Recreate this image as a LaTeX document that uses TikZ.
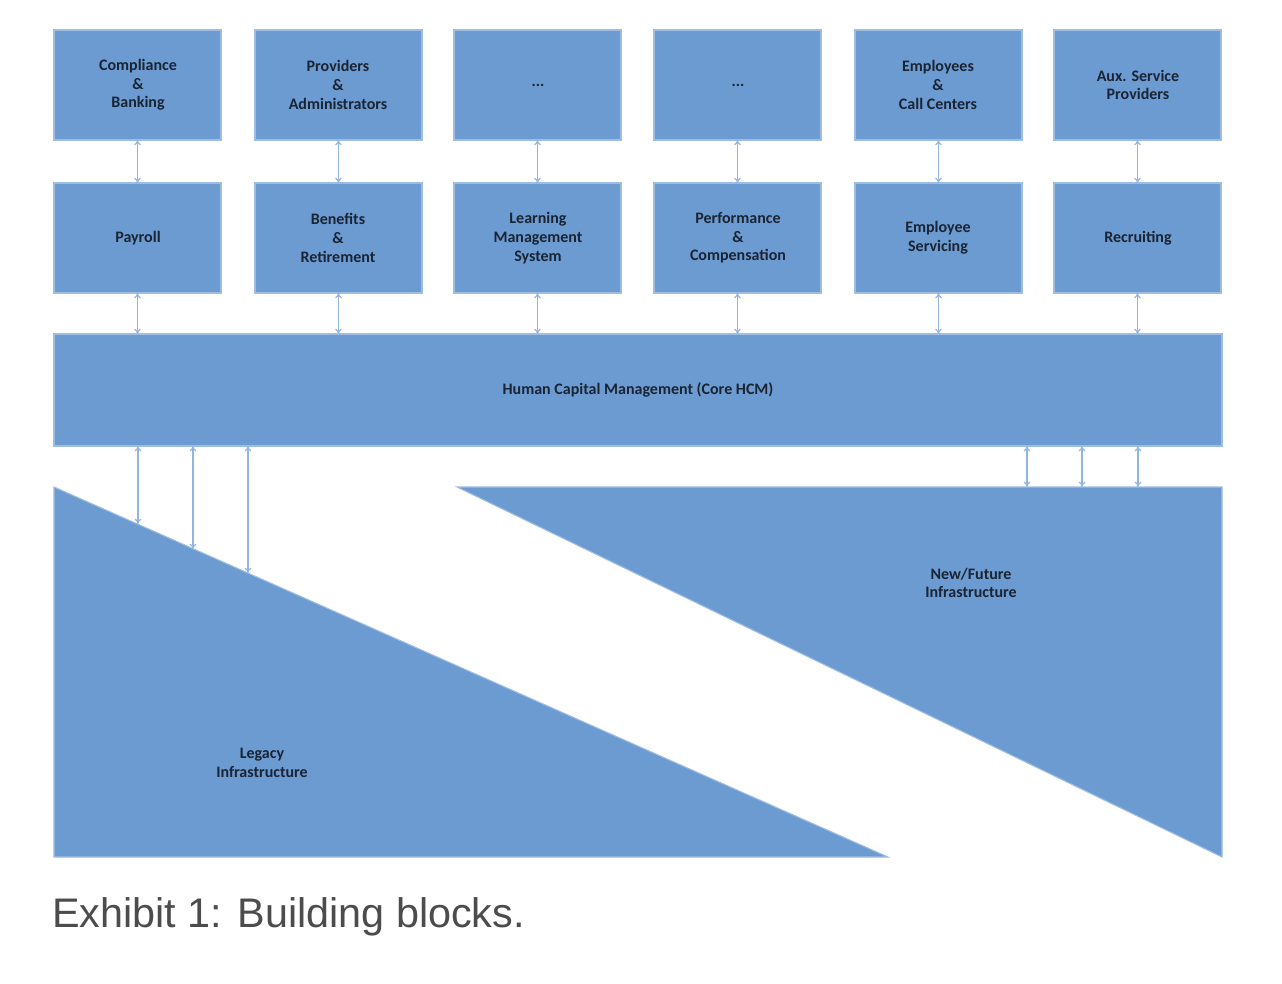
\documentclass[tikz,border=0pt]{standalone}
\usepackage{fontspec}
\setmainfont{Carlito}
\newfontfamily\capfont{Liberation Sans}
\usetikzlibrary{arrows.meta}
\definecolor{bfill}{HTML}{6C9BD2}
\definecolor{bline}{HTML}{9DBDE3}
\definecolor{txt}{HTML}{1A2433}
\begin{document}
\begin{tikzpicture}[x=0.75pt,y=-0.75pt,
  blk/.style={fill=bfill,draw=bline,line width=0.8pt},
  lbl/.style={font=\bfseries\fontsize{12}{14}\selectfont,text=txt,align=center},
  arr/.style={draw=bline!80!bfill,line width=0.9pt,{To[length=4pt,width=5pt]}-{To[length=4pt,width=5pt]}}]
\useasboundingbox (0,0) rectangle (1282,984);
\fill[white] (0,0) rectangle (1282,984);
\foreach \n/\x in {1/54,2/255,3/454,4/654,5/855,6/1054}{
  \path[blk] (\x,30) rectangle ++(167,110);
  \path[blk] (\x,183) rectangle ++(167,110);
  \coordinate (t\n) at (\x+83.5,140);
  \coordinate (m\n) at (\x+83.5,183);
  \coordinate (mb\n) at (\x+83.5,293);
  \coordinate (h\n) at (\x+83.5,334);
}
\node[lbl] (a1) at (138,85) {Compliance\\\&\\Banking};
\node[lbl] (a2) at (338,85) {Providers\\\&\\Administrators};
\node[lbl] (a3) at (538,85) {...};
\node[lbl] (a4) at (738,85) {...};
\node[lbl] (a5) at (938,85) {Employees\\\&\\Call Centers};
\node[lbl] (a6) at (1138,85) {Aux. Service\\Providers};
\node[lbl] (b1) at (138,238) {Payroll};
\node[lbl] (b2) at (338,238) {Benefits\\\&\\Retirement};
\node[lbl] (b3) at (538,238) {Learning\\Management\\System};
\node[lbl] (b4) at (738,238) {Performance\\\&\\Compensation};
\node[lbl] (b5) at (938,238) {Employee\\Servicing};
\node[lbl] (b6) at (1138,238) {Recruiting};
\path[blk] (54,334) rectangle (1222,446);
\node[lbl] (hcm) at (638,390) {Human Capital Management (Core HCM)};
\path[blk] (54,487) -- (54,857) -- (888,857) -- cycle;
\path[blk] (457,487) -- (1222,487) -- (1222,857) -- cycle;
\node[lbl] (leg) at (262,763) {Legacy\\Infrastructure};
\node[lbl] (new) at (971,583) {New/Future\\Infrastructure};
\foreach \n in {1,...,6}{
  \draw[arr] (t\n) -- (m\n);
  \draw[arr] (mb\n) -- (h\n);
}
\coordinate (l1a) at (138,446); \coordinate (l1b) at (138,524);
\coordinate (l2a) at (193,446); \coordinate (l2b) at (193,549);
\coordinate (l3a) at (248,446); \coordinate (l3b) at (248,573);
\coordinate (r1a) at (1027,446); \coordinate (r1b) at (1027,487);
\coordinate (r2a) at (1082,446); \coordinate (r2b) at (1082,487);
\coordinate (r3a) at (1138,446); \coordinate (r3b) at (1138,487);
\foreach \p in {l1,l2,l3,r1,r2,r3}{\draw[arr] (\p a) -- (\p b);}
\node[anchor=west,inner sep=0,font=\capfont\fontsize{31}{36}\selectfont,text=black!70] (cap) at (52,917) {Exhibit 1: Building blocks.};
\end{tikzpicture}
\end{document}
